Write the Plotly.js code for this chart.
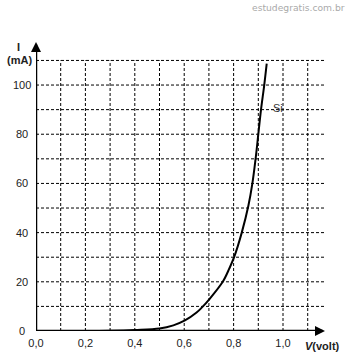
<!DOCTYPE html>
<html><head><meta charset="utf-8">
<script src="https://cdn.plot.ly/plotly-3.0.1.min.js"></script>
<style>html,body{margin:0;padding:0;background:#fff}</style>
</head><body><div id="chart" style="width:349px;height:360px"></div>
<script>
const voltage = [0, 0.1, 0.2, 0.3, 0.4, 0.5, 0.556, 0.603, 0.65, 0.671, 0.704, 0.756, 0.783, 0.802, 0.833, 0.86, 0.876, 0.889, 0.9, 0.911, 0.924, 0.934];
const current = [0, 0, 0, 0.1, 0.4, 1, 2.3, 4.3, 7.5, 9.5, 13.2, 20, 25.5, 30, 40, 51, 60, 70, 80, 90, 100, 108.7];
const xGrid = [0.1, 0.2, 0.3, 0.4, 0.5, 0.6, 0.7, 0.8, 0.9, 1.0, 1.1];
const yGrid = [10, 20, 30, 40, 50, 60, 70, 80, 90, 100, 110];
const xTickVals = [0, 0.2, 0.4, 0.6, 0.8, 1.0];
const xTickText = ['0,0', '0,2', '0,4', '0,6', '0,8', '1,0'];
const yTickVals = [0, 20, 40, 60, 80, 100];
const yTickText = ['0', '20', '40', '60', '80', '100'];
const seriesLabel = 'Si';

const FONT = 'Liberation Sans, Arial, sans-serif';
const xMax = 1.17, yMax = 117.5;
const PW = 289, PH = 289;

const shapes = [];
xGrid.forEach(v => shapes.push({type:'line', xref:'x', yref:'y', x0:v, x1:v, y0:0, y1:110,
  line:{color:'#000', width:1, dash:'3px,2px'}, layer:'below'}));
yGrid.forEach(v => shapes.push({type:'line', xref:'x', yref:'y', x0:0, x1:xMax, y0:v, y1:v,
  line:{color:'#000', width:1, dash:'3px,2px'}, layer:'below'}));
shapes.push({type:'line', xref:'x', yref:'y', x0:0, x1:xMax-0.01, y0:0, y1:0, line:{color:'#000', width:2.5}});
shapes.push({type:'line', xref:'x', yref:'y', x0:0, x1:0, y0:0, y1:yMax-1, line:{color:'#000', width:2.5}});

const annotations = [];
yTickVals.forEach((v,i) => annotations.push({x:0, y:v, xref:'x', yref:'y', text:yTickText[i],
  showarrow:false, xanchor:'center', yanchor:'middle', xshift:-14,
  font:{family:FONT, size:11, color:'#222'}}));
annotations.push({x:0, y:yMax, ax:0, ay:yMax-4, xref:'x', yref:'y', axref:'x', ayref:'y',
  showarrow:true, arrowhead:2, arrowsize:1, arrowwidth:2, arrowcolor:'#000', text:''});
annotations.push({x:xMax, y:0, ax:xMax-0.03, ay:0, xref:'x', yref:'y', axref:'x', ayref:'y',
  showarrow:true, arrowhead:2, arrowsize:1, arrowwidth:2, arrowcolor:'#000', text:''});
annotations.push({x:0.978, y:90.5, xref:'x', yref:'y', text:seriesLabel, showarrow:false,
  font:{family:FONT, size:11, color:'#333'}});
annotations.push({xref:'paper', yref:'paper', x:-18/PW, y:1, xanchor:'center', yanchor:'middle',
  text:'<b>I</b>', showarrow:false, yshift:-5, font:{family:FONT, size:11, color:'#222'}});
annotations.push({xref:'paper', yref:'paper', x:-17/PW, y:1, xanchor:'center', yanchor:'middle',
  text:'<b>(mA)</b>', showarrow:false, yshift:-18, font:{family:FONT, size:11, color:'#222'}});
annotations.push({xref:'paper', yref:'paper', x:1-2.5/PW, y:0, xanchor:'center', yanchor:'middle',
  text:'<b><i>V</i>(volt)</b>', showarrow:false, yshift:-15, font:{family:FONT, size:11, color:'#222'}});
annotations.push({xref:'paper', yref:'paper', x:1+22/PW, y:1, xanchor:'right', yanchor:'middle',
  text:'estudegratis.com.br', showarrow:false, yshift:35,
  font:{family:'DejaVu Sans, Verdana', size:9.2, color:'#aaa'}});

const layout = {
  width:349, height:360,
  margin:{l:36, r:24, t:42, b:29},
  paper_bgcolor:'#fff', plot_bgcolor:'#fff',
  showlegend:false,
  xaxis:{range:[0,xMax], showgrid:false, zeroline:false, showline:false,
    tickmode:'array', tickvals:xTickVals, ticktext:xTickText, ticks:'', ticklabelstandoff:4,
    tickfont:{family:FONT, size:11, color:'#222'}, fixedrange:true},
  yaxis:{range:[0,yMax], showgrid:false, zeroline:false, showline:false,
    showticklabels:false, ticks:'', fixedrange:true},
  shapes: shapes,
  annotations: annotations
};

Plotly.newPlot('chart', [{x:voltage, y:current, type:'scatter', mode:'lines',
  line:{color:'#000', width:2, shape:'spline', smoothing:1}, hoverinfo:'skip'}],
  layout, {displayModeBar:false, staticPlot:true});
</script></body></html>
